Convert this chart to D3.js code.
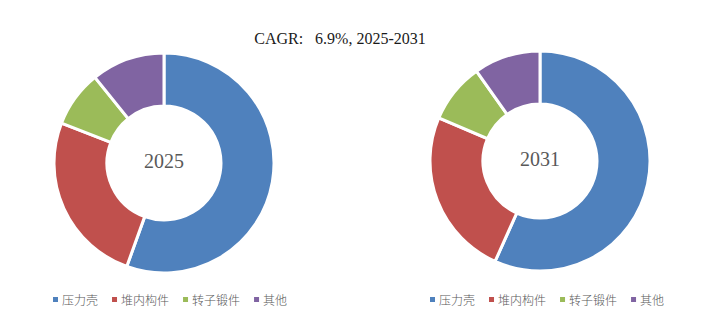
<!DOCTYPE html>
<html>
<head>
<meta charset="utf-8">
<script src="https://cdn.jsdelivr.net/npm/d3@7/dist/d3.min.js"></script>
<style>
  html, body { margin: 0; padding: 0; background: #fff; }
  svg { display: block; }
</style>
</head>
<body>
<svg id="chart" width="706" height="322"></svg>
<script>
// Segment shares (%) for each year
const categories = ["压力壳", "堆内构件", "转子锻件", "其他"];
const years = ["2025", "2031"];
const values2025 = [55.5, 25.4, 8.3, 10.8];
const values2031 = [56.7, 24.7, 8.8, 9.8];
const titleText = "CAGR:   6.9%, 2025-2031";

const colors = ["#4F81BD", "#C0504D", "#9BBB59", "#8064A2"];

const svg = d3.select("#chart");
const color = d3.scaleOrdinal().domain(categories).range(colors);

svg.append("text")
  .attr("x", 340).attr("y", 44)
  .attr("text-anchor", "middle")
  .attr("font-family", "'Liberation Serif', 'DejaVu Serif', serif")
  .attr("font-size", 16)
  .attr("fill", "#1a1a1a")
  .style("white-space", "pre")
  .attr("xml:space", "preserve")
  .text(titleText);

const pie = d3.pie().sort(null).value(d => d.v);
const arc = d3.arc().innerRadius(57).outerRadius(110);

const donuts = [
  { year: years[0], values: values2025, cx: 164, cy: 163, legendX: 53 },
  { year: years[1], values: values2031, cx: 540, cy: 161, legendX: 430 }
];

donuts.forEach(dn => {
  const g = svg.append("g").attr("transform", `translate(${dn.cx},${dn.cy})`);
  const data = categories.map((c, i) => ({ c, v: dn.values[i] }));
  g.selectAll("path")
    .data(pie(data))
    .join("path")
    .attr("d", arc)
    .attr("fill", d => color(d.data.c))
    .attr("stroke", "#fff")
    .attr("stroke-width", 3)
    .attr("stroke-linejoin", "miter");

  g.append("text")
    .attr("text-anchor", "middle")
    .attr("y", 5)
    .attr("font-family", "'Liberation Serif', 'DejaVu Serif', serif")
    .attr("font-size", 20)
    .attr("fill", "#595959")
    .text(dn.year);

  // Legend row under each donut
  const lg = svg.append("g").attr("transform", `translate(${dn.legendX},300)`);
  let x = 0;
  categories.forEach(c => {
    const item = lg.append("g").attr("transform", `translate(${x},0)`);
    item.append("rect")
      .attr("x", 0).attr("y", -3)
      .attr("width", 5).attr("height", 5)
      .attr("fill", color(c));
    const t = item.append("text")
      .attr("x", 9).attr("y", 4.5)
      .attr("font-family", "'Noto Sans CJK SC', sans-serif")
      .attr("font-size", 12)
      .attr("font-weight", 300)
      .attr("fill", "#595959")
      .text(c);
    const w = t.node().getComputedTextLength();
    x += 9 + w + 14;
  });
});
</script>
</body>
</html>
